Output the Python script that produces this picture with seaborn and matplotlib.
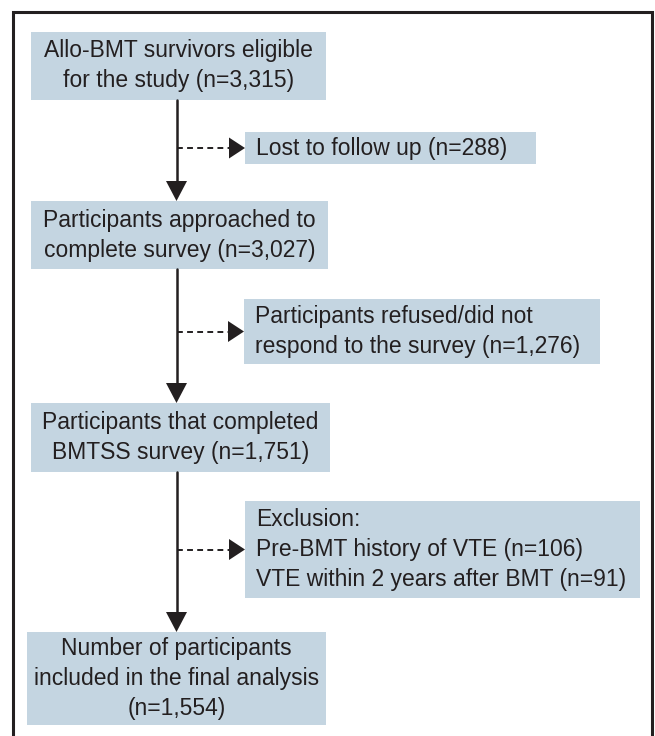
import matplotlib.pyplot as plt
import seaborn as sns
from matplotlib.patches import Rectangle

# Flowchart content
main_labels = [
    ['Allo-BMT survivors eligible', 'for the study'],
    ['Participants approached to', 'complete survey'],
    ['Participants that completed', 'BMTSS survey'],
    ['Number of participants', 'included in the final analysis', ''],
]
main_counts = [3315, 3027, 1751, 1554]

side_labels = [
    ['Lost to follow up'],
    ['Participants refused/did not', 'respond to the survey'],
    ['Exclusion:', 'Pre-BMT history of VTE', 'VTE within 2 years after BMT'],
]
side_counts = [[288], [None, 1276], [None, 106, 91]]

# Layout (pixels, y down)
main_boxes = [(31, 32, 326, 100), (31, 201, 328, 269),
              (31, 403, 330, 472), (27, 632, 326, 725)]
side_boxes = [(245, 132, 536, 164), (244, 299, 600, 364),
              (245, 501, 640, 598)]
arrow_x = 176.5

box_color = '#c4d5e1'
ink = '#231f20'

sns.set_theme(style='white')
plt.rcParams['font.family'] = ['Liberation Sans', 'DejaVu Sans']

fig = plt.figure(figsize=(6.55, 7.36), dpi=100)
ax = fig.add_axes([0, 0, 1, 1])
ax.set_xlim(0, 655)
ax.set_ylim(736, 0)
ax.axis('off')

# outer frame (open at the bottom)
ax.plot([12.5, 12.5, 651.5, 651.5], [740, 11.5, 11.5, 740],
        color=ink, lw=2.2, solid_joinstyle='miter')

line_gap = 30
fs = 16.5


def draw_box(box, lines, align):
    x0, y0, x1, y1 = box
    ax.add_patch(Rectangle((x0, y0), x1 - x0, y1 - y0,
                           facecolor=box_color, edgecolor='none'))
    cy = (y0 + y1) / 2
    n = len(lines)
    for i, t in enumerate(lines):
        y = cy + (i - (n - 1) / 2) * line_gap
        if align == 'center':
            ax.text((x0 + x1) / 2, y, t, ha='center', va='center',
                    fontsize=fs, color=ink)
        else:
            ax.text(x0 + 11, y, t, ha='left', va='center',
                    fontsize=fs, color=ink)


for i, (lab, n) in enumerate(zip(main_labels, main_counts)):
    lines = list(lab)
    txt = f'(n={n:,})'
    if lines[-1] == '':
        lines[-1] = txt
    else:
        lines[-1] = lines[-1] + ' ' + txt
    draw_box(main_boxes[i], lines, 'center')

for i, (lab, cnts) in enumerate(zip(side_labels, side_counts)):
    lines = [t if c is None else f'{t} (n={c:,})' for t, c in zip(lab, cnts)]
    draw_box(side_boxes[i], lines, 'left')

# vertical arrows between main boxes
for a, b in zip(main_boxes[:-1], main_boxes[1:]):
    top, tip = a[3], b[1]
    ax.plot([arrow_x, arrow_x], [top, tip - 18], color=ink, lw=1.8)
    ax.fill([arrow_x - 10.5, arrow_x + 10.5, arrow_x],
            [tip - 20, tip - 20, tip], color=ink, lw=0)

# dashed arrows to side boxes
for sb in side_boxes:
    y = (sb[1] + sb[3]) / 2
    tip = sb[0]
    ax.plot([arrow_x, tip - 16], [y, y], color=ink, lw=1.4,
            dashes=(3, 2.2))
    ax.fill([tip - 16, tip - 16, tip], [y - 10.5, y + 10.5, y],
            color=ink, lw=0)

plt.savefig('out.png', dpi=100)
